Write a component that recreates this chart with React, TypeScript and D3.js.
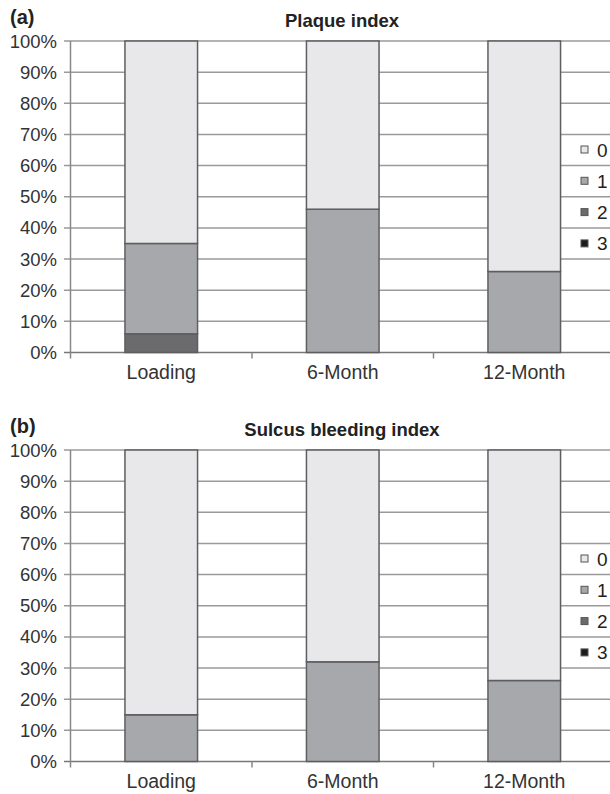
import React from "react";
import * as d3 from "d3";

const categories = ["Loading", "6-Month", "12-Month"];
const scores = ["0", "1", "2", "3"];
const plaque0 = [65, 54, 74];
const plaque1 = [29, 46, 26];
const plaque2 = [6, 0, 0];
const plaque3 = [0, 0, 0];
const bleed0 = [85, 68, 74];
const bleed1 = [15, 32, 26];
const bleed2 = [0, 0, 0];
const bleed3 = [0, 0, 0];
const yTicks = [0, 10, 20, 30, 40, 50, 60, 70, 80, 90, 100];
const colors = ["#e8e8ea", "#a7a8ab", "#6b6b6e", "#1c1c1c"];

const FONT = "Liberation Sans, Arial, Helvetica, sans-serif";

function Panel({ tag, title, series, top }: { tag: string; title: string; series: number[][]; top: number }) {
  const x0 = 70.5, x1 = 615;
  const yTop = top + 41, yBot = top + 352.5;
  const x = d3.scaleBand().domain(categories).range([x0, x1]).paddingInner(0.6).paddingOuter(0.3);
  const xb = d3.scaleBand().domain(categories).range([x0, x1]);
  const y = d3.scaleLinear().domain([0, 100]).range([yBot, yTop]);
  const rows = categories.map((c, i) => {
    const o: any = { cat: c };
    scores.forEach((s, k) => (o[s] = series[k][i]));
    return o;
  });
  // stack order: 3 at the bottom, then 2, 1, and 0 on top
  const order = ["3", "2", "1", "0"];
  const st = d3.stack().keys(order)(rows as any);
  return (
    <g>
      <text x={10} y={top + 24} fontSize={20} fontWeight="bold" fontFamily={FONT} fill="#222">{tag}</text>
      <text x={342} y={top + 27} fontSize={18.5} fontWeight="bold" fontFamily={FONT} fill="#222" textAnchor="middle">{title}</text>
      {yTicks.map((t) => (
        <g key={t}>
          <line x1={64} x2={616} y1={y(t)} y2={y(t)} stroke={t === 0 ? "#777" : "#9a9a9a"} strokeWidth={1.5} />
          <text x={57} y={y(t) + 6.5} fontSize={18.5} fontFamily={FONT} fill="#333" textAnchor="end">{t}%</text>
        </g>
      ))}
      <line x1={x0} x2={x0} y1={yTop} y2={yBot + 6} stroke="#888" strokeWidth={1.5} />
      {categories.map((c) => (
        <line key={c} x1={(xb(c) as number) + xb.bandwidth()} x2={(xb(c) as number) + xb.bandwidth()} y1={yBot} y2={yBot + 6} stroke="#888" strokeWidth={1.5} />
      ))}
      {st.map((layer: any, k: number) => {
        const key = order[k];
        const ci = scores.indexOf(key);
        return layer.map((d: any, i: number) =>
          d[1] - d[0] > 0 ? (
            <rect key={key + i} x={x(categories[i])} width={x.bandwidth()} y={y(d[1])} height={y(d[0]) - y(d[1])} fill={colors[ci]} stroke="#5e5e60" strokeWidth={1.5} />
          ) : null
        );
      })}
      {categories.map((c) => (
        <text key={c} x={(x(c) as number) + x.bandwidth() / 2} y={yBot + 26} fontSize={19.5} fontFamily={FONT} fill="#333" textAnchor="middle">{c}</text>
      ))}
      {scores.map((s, k) => (
        <g key={s}>
          <rect x={581} y={top + 146 + k * 31.3} width={7} height={7} fill={colors[k]} stroke="#555" strokeWidth={1} />
          <text x={597} y={top + 156.5 + k * 31.3} fontSize={19} fontFamily={FONT} fill="#222">{s}</text>
        </g>
      ))}
    </g>
  );
}

export default function App() {
  return (
    <svg width={610} height={794} style={{ position: "absolute", left: 0, top: 0, background: "#fff" }}>
      <rect width={610} height={794} fill="#fff" />
      <Panel tag="(a)" title="Plaque index" series={[plaque0, plaque1, plaque2, plaque3]} top={0} />
      <Panel tag="(b)" title="Sulcus bleeding index" series={[bleed0, bleed1, bleed2, bleed3]} top={409} />
    </svg>
  );
}
